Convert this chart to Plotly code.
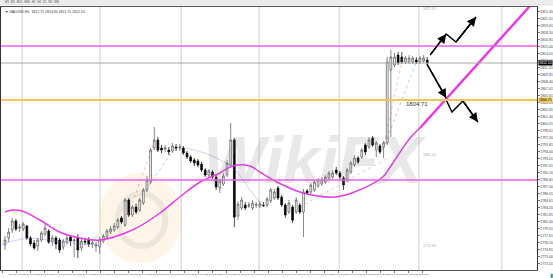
import plotly.graph_objects as go
import numpy as np

# ---------------- data ----------------
open_ = [1775.7,1777.1,1778.7,1780.5,1779.1,1778.9,1779.5,1777.1,1776.1,1775.5,
1776.7,1777.9,1778.5,1776.3,1777.1,1776.7,1775.3,1776.3,1777.3,1776.5,
1777.1,1775.1,1776.5,1776.7,1775.9,1775.5,1775.3,1776.5,1777.3,1778.3,
1778.7,1779.3,1781.1,1779.7,1784.7,1781.7,1783.3,1782.7,1784.1,1786.7,
1788.3,1795.1,1796.7,1795.1,1794.9,1794.7,1794.5,1795.3,1795.1,1795.1,
1794.1,1793.3,1792.7,1792.5,1791.9,1790.7,1789.7,1790.3,1789.3,1787.1,
1787.9,1789.7,1791.7,1796.7,1781.5,1783.1,1783.7,1783.5,1783.1,1783.7,
1783.5,1783.7,1783.7,1784.5,1785.1,1787.1,1785.3,1783.7,1782.3,1783.3,
1782.3,1783.7,1782.3,1786.5,1786.3,1786.7,1787.5,1787.9,1788.3,1789.1,
1789.3,1790.7,1790.1,1789.1,1788.7,1790.3,1791.7,1793.1,1793.3,1795.7,
1795.3,1797.1,1794.7,1795.5,1795.3,1796.1,1810.7,1811.7,1813.7,1813.3,
1812.3,1812.3,1812.3,1812.7,1812.3,1812.5,1812.7]
close = [1776.7,1778.3,1780.5,1778.9,1779.3,1779.9,1777.1,1775.9,1775.1,1776.7,
1778.1,1779.1,1776.3,1777.1,1775.9,1774.7,1776.5,1777.1,1776.5,1776.7,
1774.7,1776.5,1776.3,1775.9,1776.1,1775.7,1776.7,1777.5,1778.5,1778.9,
1779.5,1780.7,1780.3,1784.7,1781.7,1783.3,1782.3,1784.7,1786.7,1788.7,
1794.7,1796.7,1794.7,1794.7,1795.1,1794.3,1795.5,1795.1,1795.3,1794.1,
1793.3,1792.5,1792.1,1791.7,1790.7,1789.7,1790.5,1789.3,1787.3,1788.5,
1789.5,1792.1,1796.7,1781.3,1783.9,1784.7,1783.1,1783.7,1784.1,1783.8,
1783.9,1783.6,1784.9,1786.7,1786.3,1785.1,1783.7,1781.7,1784.1,1780.7,
1784.7,1782.3,1786.3,1786.1,1787.7,1788.3,1788.7,1788.7,1789.3,1790.1,
1790.1,1790.1,1789.3,1787.7,1790.7,1792.1,1793.1,1792.3,1794.7,1794.3,
1796.7,1795.7,1796.1,1794.3,1796.1,1812.3,1813.3,1813.3,1812.1,1812.3,
1813.1,1813.1,1813.1,1812.3,1813.1,1813.1,1812.1]
high = [1777.5,1779.1,1781.1,1780.9,1779.9,1780.3,1779.7,1777.5,1776.7,1777.1,
1778.5,1779.9,1778.9,1777.7,1777.5,1777.1,1776.9,1777.9,1777.7,1777.5,
1777.9,1777.1,1777.1,1777.3,1776.7,1776.3,1777.3,1777.9,1778.9,1779.5,
1780.1,1781.1,1781.5,1785.1,1785.1,1783.7,1783.9,1785.1,1787.1,1789.5,
1795.1,1799.3,1797.3,1795.7,1795.7,1795.3,1796.1,1795.9,1795.9,1795.5,
1794.5,1793.7,1793.1,1792.9,1792.3,1791.1,1790.9,1790.7,1789.7,1788.9,
1790.1,1792.7,1800.1,1797.1,1784.5,1785.3,1784.3,1784.3,1784.7,1784.3,
1784.5,1784.3,1785.3,1787.1,1786.9,1787.5,1785.7,1784.1,1784.7,1783.7,
1785.3,1784.1,1786.9,1786.9,1788.1,1788.7,1789.1,1789.3,1789.7,1790.5,
1790.7,1791.3,1790.5,1789.5,1791.1,1792.5,1793.7,1793.5,1795.1,1796.1,
1797.3,1797.5,1796.5,1795.9,1796.5,1813.3,1814.7,1814.1,1814.3,1814.3,
1813.5,1813.7,1813.5,1813.3,1813.5,1813.7,1813.3]
low = [1774.7,1776.3,1778.1,1778.5,1778.3,1778.5,1776.7,1775.5,1774.7,1774.5,
1776.3,1777.5,1775.9,1775.5,1774.9,1774.1,1774.7,1775.7,1775.5,1773.3,
1773.1,1774.5,1775.7,1775.3,1775.1,1774.3,1773.9,1776.1,1776.9,1777.9,
1778.3,1778.9,1779.9,1779.3,1781.3,1781.3,1781.9,1782.3,1783.7,1786.3,
1787.9,1794.7,1794.3,1794.1,1794.3,1793.7,1794.1,1794.5,1794.5,1793.7,
1792.9,1792.1,1791.5,1791.3,1790.3,1789.3,1789.3,1788.9,1786.7,1786.1,
1787.5,1789.3,1791.3,1779.3,1780.7,1782.7,1782.7,1783.1,1782.7,1783.1,
1783.1,1783.3,1783.3,1784.1,1784.7,1784.7,1783.3,1781.1,1781.9,1780.1,
1781.9,1781.9,1777.3,1785.7,1785.9,1786.3,1787.1,1787.5,1787.9,1788.7,
1788.9,1789.7,1788.9,1786.7,1788.3,1789.9,1791.3,1791.9,1792.9,1793.7,
1794.9,1795.3,1793.3,1793.9,1793.1,1795.7,1797.3,1811.3,1811.7,1811.9,
1811.9,1811.9,1811.9,1811.9,1811.9,1812.1,1811.7]
bars = list(range(len(open_)))

# moving average (magenta curve), sampled at bar positions
ma_bar = [0, 2.2, 4.7, 9.6, 15, 20.6, 26, 35, 42.6, 48, 53.6, 59, 62.6, 67.3, 70,
          74.7, 81.9, 90.7, 96, 103.8, 105.8, 111.3, 114]
ma_val = [1782.3, 1782.7, 1782.5, 1780.7, 1778.3, 1777.1, 1776.7, 1778.7, 1782.1,
          1785.3, 1788.3, 1790.1, 1791.5, 1791.5, 1790.3, 1788.3, 1786.1, 1785.3,
          1786.3, 1789.3, 1791.3, 1797.1, 1799.1]

# thin short MA pieces
thin_a_bar = [-1.4, 6.9, 15.1, 26.1]
thin_a_val = [1775.7, 1777.1, 1776.3, 1775.7]
thin_b_bar = [49.5, 56.3, 63.2, 67.3, 70.6]
thin_b_val = [1795.1, 1793.7, 1790.7, 1786.7, 1783.7]

# fan lines
fan1_bar = [33.8, 41.2]; fan1_val = [1781.7, 1796.7]
fan2_bar = [33.8, 46.7]; fan2_val = [1781.7, 1795.1]
fan3_bar = [81.0, 105.2]; fan3_val = [1783.3, 1793.1]
fan4_bar = [103.8, 109.3]; fan4_val = [1794.7, 1813.3]
fan5_bar = [103.8, 113.2]; fan5_val = [1794.7, 1812.7]

# projection trend line
proj_bar = [114, 144.2]
proj_val = [1799.1, 1823.5]

# scenario arrows
up_bar = [116.8, 121.2, 123.9, 129.4]
up_val = [1813.7, 1817.9, 1816.3, 1821.3]
dn1_bar = [115.9, 121.2]
dn1_val = [1811.9, 1805.1]
dn2_bar = [121.2, 122.8, 125.8, 129.9]
dn2_val = [1804.7, 1802.3, 1804.5, 1800.3]

# horizontal levels
res_level = 1815.5
cur_price = 1812.1
key_level = 1804.71
sup_level = 1788.7

separator_bar = [4.7, 26.1, 48.4, 69.8, 91.8, 113.7, 136.5]

date_labels = ["21 Jun 2021","21 Jun 04:00","21 Jun 08:00","21 Jun 12:00","21 Jun 16:00","21 Jun 20:00",
               "22 Jun 00:00","22 Jun 04:00","22 Jun 08:00","22 Jun 12:00","22 Jun 16:00","22 Jun 20:00",
               "23 Jun 00:00","23 Jun 04:00","23 Jun 08:00","23 Jun 12:00","23 Jun 16:00","23 Jun 20:00",
               "24 Jun 00:00","24 Jun 04:00","24 Jun 08:00","24 Jun 12:00","24 Jun 16:00","24 Jun 20:00",
               "25 Jun 00:00","25 Jun 04:00","25 Jun 08:00","25 Jun 12:00","25 Jun 16:00","25 Jun 20:00",
               "28 Jun 00:00"]

# ---------------- figure ----------------
MAG = "#e63ce6"
fig = go.Figure()

def line(xs, ys, color, width, dash="solid", shape="linear"):
    fig.add_trace(go.Scatter(x=xs, y=ys, mode="lines", hoverinfo="skip",
                             line=dict(color=color, width=width, dash=dash, shape=shape),
                             showlegend=False))

line(thin_a_bar, thin_a_val, "rgba(120,120,220,0.6)", 0.6, shape="spline")
line(thin_b_bar, thin_b_val, "rgba(120,120,220,0.6)", 0.6, shape="spline")
line(fan1_bar, fan1_val, "rgba(230,80,80,0.6)", 0.6, dash="dot")
line(fan2_bar, fan2_val, "rgba(90,90,220,0.6)", 0.6, dash="dot")
line(fan3_bar, fan3_val, "rgba(120,120,120,0.6)", 0.6, dash="dot")
line(fan4_bar, fan4_val, "rgba(230,80,80,0.6)", 0.6, dash="dot")
line(fan5_bar, fan5_val, "rgba(90,90,220,0.6)", 0.6, dash="dot")

fig.add_trace(go.Candlestick(
    x=bars, open=open_, high=high, low=low, close=close,
    increasing=dict(fillcolor="white", line=dict(color="#555555", width=0.7)),
    decreasing=dict(fillcolor="black", line=dict(color="black", width=0.7)),
    whiskerwidth=0, showlegend=False, hoverinfo="skip"))

line(ma_bar, ma_val, MAG, 1.5, shape="spline")
line(proj_bar, proj_val, MAG, 2.5)

line(up_bar, up_val, "black", 1.5)
line(dn1_bar, dn1_val, "black", 1.5)
line(dn2_bar, dn2_val, "black", 1.5)

annotations = []
def arrow(bx0, v0, bx1, v1):
    annotations.append(dict(x=bx1, y=v1, ax=bx0, ay=v0, xref="x", yref="y",
                            axref="x", ayref="y", text="", showarrow=True,
                            arrowhead=2, arrowsize=1.2, arrowwidth=1.5, arrowcolor="black"))
arrow(up_bar[0], up_val[0], up_bar[1], up_val[1])
arrow(up_bar[2], up_val[2], up_bar[3], up_val[3])
arrow(dn1_bar[0], dn1_val[0], dn1_bar[1], dn1_val[1])
arrow(dn2_bar[2], dn2_val[2], dn2_bar[3], dn2_val[3])

shapes = []
for s in separator_bar:
    shapes.append(dict(type="line", xref="x", yref="paper", x0=s, x1=s, y0=0, y1=1,
                       line=dict(color="#cfcfcf", width=1), layer="below"))
# watermark logo blob
shapes.append(dict(type="circle", xref="x", yref="y", x0=25.6, x1=48.6, y0=1772.0, y1=1790.1,
                   fillcolor="rgba(245,195,110,0.16)", line=dict(width=0), layer="below"))
shapes.append(dict(type="circle", xref="x", yref="y", x0=31, x1=44, y0=1775.5, y1=1786,
                   fillcolor="rgba(0,0,0,0)", line=dict(color="rgba(150,150,150,0.15)", width=6), layer="below"))
for lvl, col, w in [(res_level, "#f25cf2", 1.3), (cur_price, "#a8a8a8", 1.0),
                    (key_level, "#ecc94e", 2.0), (sup_level, "#f25cf2", 1.3)]:
    shapes.append(dict(type="line", xref="paper", yref="y", x0=0, x1=1, y0=lvl, y1=lvl,
                       line=dict(color=col, width=w)))
# toolbar
shapes.append(dict(type="rect", xref="paper", yref="paper", x0=-0.01, x1=1.04, y0=1.0076, y1=1.03,
                   fillcolor="#ececec", line=dict(color="#d0d0d0", width=0.5)))
shapes.append(dict(type="rect", xref="paper", yref="paper", x0=1.0255, x1=1.0295, y0=-0.03, y1=-0.014,
                   fillcolor="#1aa37a", line=dict(width=0)))

annotations.append(dict(x=0.5, y=0.27, xref="paper", yref="paper", xshift=45, text="<b><i>WikiFX</i></b>",
                        showarrow=False, font=dict(size=66, color="rgba(140,140,140,0.2)",
                                                   family="Liberation Sans")))
annotations.append(dict(x=113.2, y=key_level, xref="x", yref="y", yshift=-4, text="1804.71",
                        showarrow=False, font=dict(size=6, color="#333", family="Liberation Sans")))
for yy, tx in [(1823.0, "1827.45"), (1793.7, "1801.20"), (1775.5, "1771.83")]:
    annotations.append(dict(x=116.5, y=yy, xref="x", yref="y", text=tx, showarrow=False,
                            font=dict(size=3.5, color="#aaaaaa", family="Liberation Sans")))
annotations.append(dict(x=0.004, y=0.998, xref="paper", yref="paper", xanchor="left", yanchor="top",
                        text="▼ XAUUSD,H1  1812.71 1813.30 1811.71 1812.10", showarrow=False,
                        font=dict(size=3.5, color="#333", family="Liberation Sans")))
annotations.append(dict(x=0.004, y=1.018, xref="paper", yref="paper", xanchor="left", yanchor="middle",
                        text="M1  M5  M15  M30  H1  H4  D1  W1  MN", showarrow=False,
                        font=dict(size=3, color="#555", family="Liberation Sans")))
for lvl, bg, fg in [(cur_price, "black", "white"), (key_level, "#ecc94e", "black")]:
    annotations.append(dict(x=1, y=lvl, xref="paper", yref="y", xanchor="left", xshift=1,
                            text=f"{lvl:.2f}", showarrow=False, bgcolor=bg, borderpad=0,
                            font=dict(size=3.5, color=fg, family="Liberation Sans")))

fig.update_layout(
    width=553, height=278,
    margin=dict(l=1, r=16, t=7, b=8, autoexpand=False),
    paper_bgcolor="white", plot_bgcolor="white",
    shapes=shapes, annotations=annotations, showlegend=False,
    xaxis=dict(range=[-1.1, 146.15], showgrid=False, zeroline=False, rangeslider=dict(visible=False),
               tickvals=list(np.arange(len(date_labels)) * 3.85 - 0.8), ticktext=date_labels,
               tickangle=0, automargin=False,
               tickfont=dict(size=2.4, color="#444", family="Liberation Sans"),
               ticks="outside", ticklen=1.5, tickcolor="#777",
               showline=True, linecolor="#555", linewidth=1, mirror=True),
    yaxis=dict(range=[1770.7, 1823.3], side="right", showgrid=False, zeroline=False, automargin=False,
               tick0=1770.605, dtick=1.4, tickformat=".2f",
               tickfont=dict(size=3.5, color="#444", family="Liberation Sans"),
               ticks="outside", ticklen=1.5, tickcolor="#777",
               showline=True, linecolor="#333", linewidth=1, mirror=True),
)

fig.write_html("out.html")
